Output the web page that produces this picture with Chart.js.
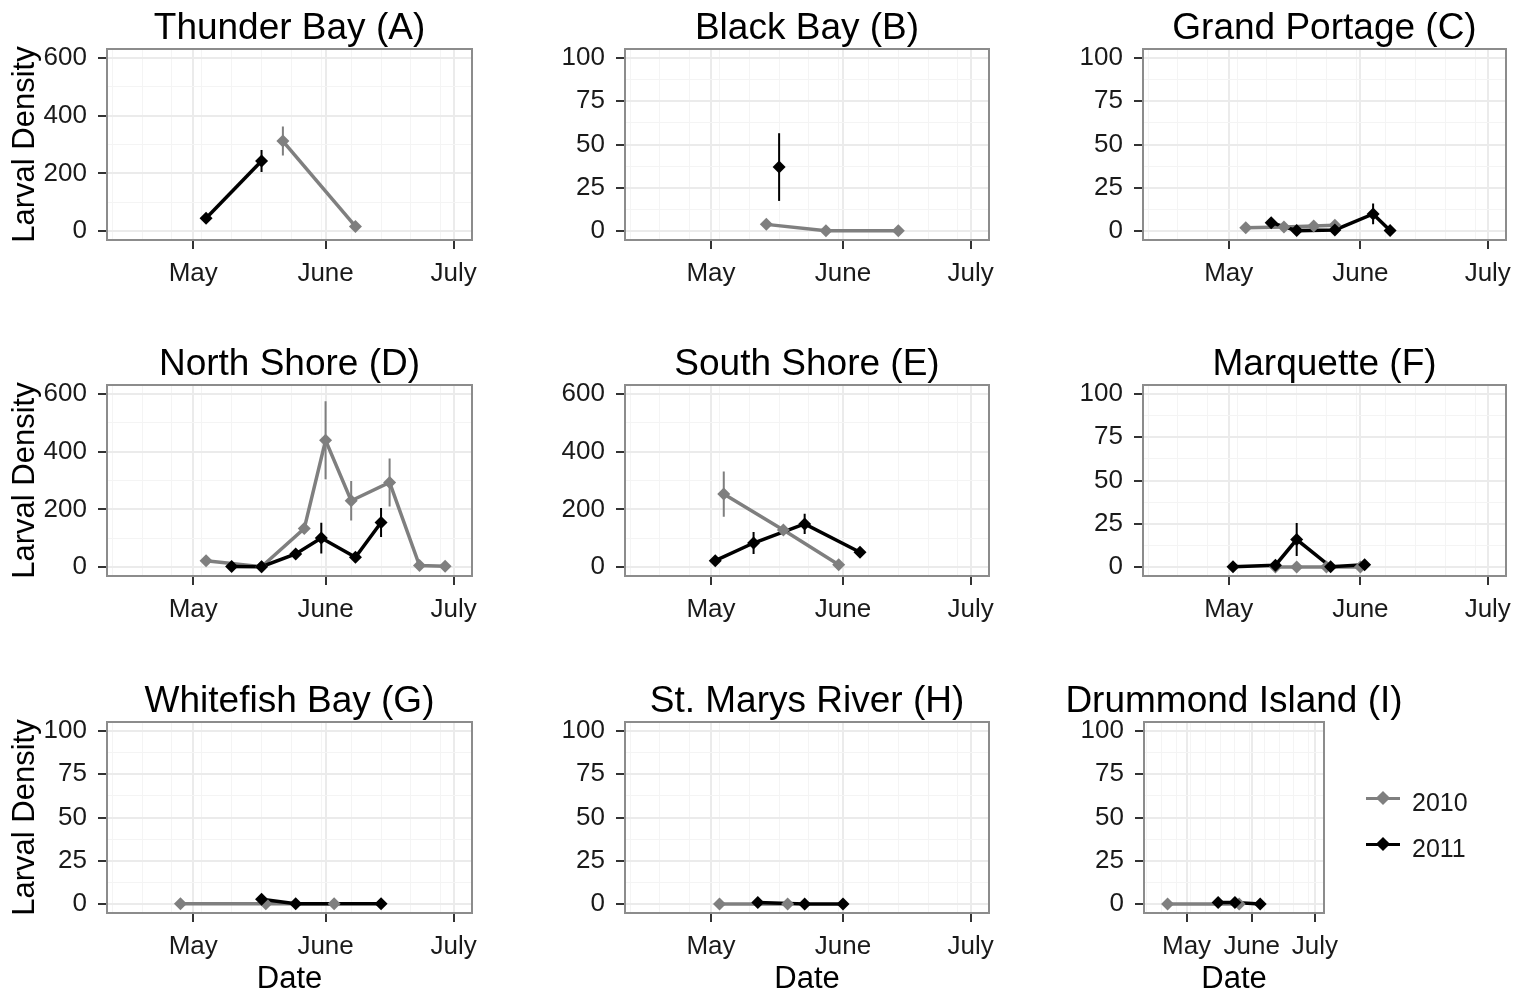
<!DOCTYPE html>
<html>
<head>
<meta charset="utf-8">
<script src="https://cdn.jsdelivr.net/npm/chart.js@4.4.1/dist/chart.umd.min.js"></script>
<style>
  body { margin: 0; background: #fff; width: 1517px; height: 995px; overflow: hidden; position: relative;
         font-family: "Liberation Sans", Arial, sans-serif; }
  canvas { position: absolute; }
  .lg-row { position: absolute; left: 1366px; height: 30px; }
  .lg-line { position: absolute; left: 0; top: 13px; width: 34px; height: 3px; }
  .lg-dot { position: absolute; left: 12px; top: 9px; width: 10px; height: 10px; transform: rotate(45deg); }
  .lg-text { position: absolute; left: 46px; top: 3px; font-size: 25px; line-height: 30px; color: #1a1a1a; }
</style>
</head>
<body>
<script>
// sampling dates (month-day), mean larval density and error half-width per site and year
const thunderDates10 = ['05-22', '06-08'];
const thunderDens10 = [312, 17];
const thunderErr10 = [50, 4];
const thunderDates11 = ['05-04', '05-17'];
const thunderDens11 = [45, 243];
const thunderErr11 = [6, 38];

const blackDates10 = ['05-14', '05-28', '06-14'];
const blackDens10 = [4, 0.3, 0.3];
const blackErr10 = [1, 0.2, 0.2];
const blackDates11 = ['05-17'];
const blackDens11 = [37];
const blackErr11 = [19.5];

const portageDates10 = ['05-05', '05-14', '05-21', '05-26'];
const portageDens10 = [2, 2.5, 3, 3.5];
const portageErr10 = [0.5, 0.5, 0.5, 0.5];
const portageDates11 = ['05-11', '05-17', '05-26', '06-04', '06-08'];
const portageDens11 = [5, 0.4, 0.8, 10, 0.4];
const portageErr11 = [1.5, 0.3, 0.5, 6, 0.3];

const northDates10 = ['05-04', '05-17', '05-27', '06-01', '06-07', '06-16', '06-23', '06-29'];
const northDens10 = [23, 2, 134, 439, 230, 293, 6, 4];
const northErr10 = [5, 1, 15, 135, 68, 83, 3, 3];
const northDates11 = ['05-10', '05-17', '05-25', '05-31', '06-08', '06-14'];
const northDens11 = [3, 2, 46, 101, 35, 155];
const northErr11 = [2, 2, 8, 53, 8, 50];

const southDates10 = ['05-04', '05-18', '05-31'];
const southDens10 = [253, 129, 9];
const southErr10 = [78, 15, 3];
const southDates11 = ['05-02', '05-11', '05-23', '06-05'];
const southDens11 = [23, 84, 150, 52];
const southErr11 = [5, 38, 35, 8];

const marqDates10 = ['05-12', '05-17', '05-24', '06-01'];
const marqDens10 = [0.2, 0.2, 0.2, 0.2];
const marqErr10 = [0.1, 0.1, 0.1, 0.1];
const marqDates11 = ['05-02', '05-12', '05-17', '05-25', '06-02'];
const marqDens11 = [0.3, 1.2, 16, 0.3, 1.5];
const marqErr11 = [0.2, 0.5, 9.5, 0.2, 0.5];

const whiteDates10 = ['04-28', '05-18', '06-03'];
const whiteDens10 = [0.3, 0.3, 0.3];
const whiteErr10 = [0.1, 0.1, 0.1];
const whiteDates11 = ['05-17', '05-25', '06-14'];
const whiteDens11 = [2.9, 0.3, 0.3];
const whiteErr11 = [0.5, 0.1, 0.1];

const stmaryDates10 = ['05-03', '05-19'];
const stmaryDens10 = [0.2, 0.2];
const stmaryErr10 = [0.1, 0.1];
const stmaryDates11 = ['05-12', '05-23', '06-01'];
const stmaryDens11 = [1, 0.2, 0.2];
const stmaryErr11 = [0.3, 0.1, 0.1];

const drumDates10 = ['04-22', '05-26'];
const drumDens10 = [0.2, 0.2];
const drumErr10 = [0.1, 0.1];
const drumDates11 = ['05-16', '05-24', '06-05'];
const drumDens11 = [1, 1, 0.2];
const drumErr11 = [0.3, 0.3, 0.1];

const years = ['2010', '2011'];
const monthLabels = ['May', 'June', 'July'];
const monthStarts = ['05-01', '06-01', '07-01'];
const weekMinor = ['04-12', '04-19', '04-26', '05-03', '05-10', '05-17', '05-24', '05-31', '06-07', '06-14', '06-21', '06-28'];
const bigTicks = [0, 200, 400, 600];
const bigMinor = [100, 300, 500];
const smallTicks = [0, 25, 50, 75, 100];
const smallMinor = [12.5, 37.5, 62.5, 87.5];

const GRAY = '#7f7f7f';
const BLACK = '#000000';
const FONT = '"Liberation Sans", Arial, sans-serif';

// day offset from May 1
function toDay(md) {
  const [m, d] = md.split('-').map(Number);
  return (Date.UTC(2011, m - 1, d) - Date.UTC(2011, 4, 1)) / 864e5;
}
function points(dates, vals) {
  return dates.map((d, i) => ({x: toDay(d), y: vals[i]}));
}
function ranges(dates, vals, errs) {
  const out = [];
  dates.forEach((d, i) => {
    const x = toDay(d);
    out.push({x, y: vals[i] - errs[i]}, {x, y: vals[i] + errs[i]}, {x, y: null});
  });
  return out;
}

const panels = [
  {title: 'Thunder Bay (A)', left: 107, top: 49, w: 365, big: true, ytitle: true,
   d10: thunderDates10, v10: thunderDens10, e10: thunderErr10, d11: thunderDates11, v11: thunderDens11, e11: thunderErr11},
  {title: 'Black Bay (B)', left: 625, top: 49, w: 364,
   d10: blackDates10, v10: blackDens10, e10: blackErr10, d11: blackDates11, v11: blackDens11, e11: blackErr11},
  {title: 'Grand Portage (C)', left: 1143, top: 49, w: 363,
   d10: portageDates10, v10: portageDens10, e10: portageErr10, d11: portageDates11, v11: portageDens11, e11: portageErr11},
  {title: 'North Shore (D)', left: 107, top: 385, w: 365, big: true, ytitle: true,
   d10: northDates10, v10: northDens10, e10: northErr10, d11: northDates11, v11: northDens11, e11: northErr11},
  {title: 'South Shore (E)', left: 625, top: 385, w: 364, big: true,
   d10: southDates10, v10: southDens10, e10: southErr10, d11: southDates11, v11: southDens11, e11: southErr11},
  {title: 'Marquette (F)', left: 1143, top: 385, w: 363,
   d10: marqDates10, v10: marqDens10, e10: marqErr10, d11: marqDates11, v11: marqDens11, e11: marqErr11},
  {title: 'Whitefish Bay (G)', left: 107, top: 722, w: 365, ytitle: true, xtitle: true,
   d10: whiteDates10, v10: whiteDens10, e10: whiteErr10, d11: whiteDates11, v11: whiteDens11, e11: whiteErr11},
  {title: 'St. Marys River (H)', left: 625, top: 722, w: 364, xtitle: true,
   d10: stmaryDates10, v10: stmaryDens10, e10: stmaryErr10, d11: stmaryDates11, v11: stmaryDens11, e11: stmaryErr11},
  {title: 'Drummond Island (I)', left: 1144, top: 722, w: 180, xtitle: true,
   d10: drumDates10, v10: drumDens10, e10: drumErr10, d11: drumDates11, v11: drumDens11, e11: drumErr11},
];

const PLOT_H = 191, TITLE_H = 49;

const boxPlugin = {
  id: 'panelBox',
  afterDatasetsDraw(chart) {
    const {ctx, chartArea: a} = chart;
    ctx.save();
    ctx.strokeStyle = '#8c8c8c';
    ctx.lineWidth = 2;
    ctx.strokeRect(a.left, a.top, a.right - a.left, a.bottom - a.top);
    ctx.restore();
  }
};

const monthVals = monthStarts.map(toDay);
const xTickVals = weekMinor.map(toDay).concat(monthVals).sort((a, b) => a - b);

panels.forEach(p => {
  const yW = p.ytitle ? p.left : 100;
  const xH = p.xtitle ? 85 : 50;
  const cv = document.createElement('canvas');
  cv.width = yW + p.w + yW;   // symmetric, so the title centres over the panel
  cv.height = TITLE_H + PLOT_H + xH;
  cv.style.left = (p.left - yW) + 'px';
  cv.style.top = (p.top - TITLE_H) + 'px';
  document.body.appendChild(cv);

  const major = p.big ? bigTicks : smallTicks;
  const minor = p.big ? bigMinor : smallMinor;
  const yTickVals = major.concat(minor).sort((a, b) => a - b);

  const layers = [
    {data: points(p.d10, p.v10), borderColor: GRAY, borderWidth: 3.5, pointRadius: 0},
    {data: points(p.d11, p.v11), borderColor: BLACK, borderWidth: 3.5, pointRadius: 0},
    {data: ranges(p.d10, p.v10, p.e10), borderColor: GRAY, borderWidth: 2, pointRadius: 0, spanGaps: false},
    {data: ranges(p.d11, p.v11, p.e11), borderColor: BLACK, borderWidth: 2, pointRadius: 0, spanGaps: false},
    {data: points(p.d10, p.v10), showLine: false, pointStyle: 'rectRot', pointRadius: 6.5,
     pointBackgroundColor: GRAY, pointBorderColor: GRAY, pointBorderWidth: 0},
    {data: points(p.d11, p.v11), showLine: false, pointStyle: 'rectRot', pointRadius: 6.5,
     pointBackgroundColor: BLACK, pointBorderColor: BLACK, pointBorderWidth: 0},
  ];
  // first dataset is painted last in Chart.js, so reverse to keep 2011 and points on top
  const datasets = layers.reverse().map(l => Object.assign({fill: false, tension: 0}, l));

  new Chart(cv, {
    type: 'line',
    data: {datasets},
    options: {
      responsive: false,
      animation: false,
      events: [],
      layout: {padding: 0},
      plugins: {
        legend: {display: false},
        tooltip: {enabled: false},
        title: {
          display: true, text: p.title, color: '#000',
          font: {family: FONT, size: 37, weight: 'normal', lineHeight: 1.1},
          padding: {top: 8.3, bottom: 0}
        }
      },
      scales: {
        x: {
          type: 'linear', min: -20.2, max: 65.3,
          afterBuildTicks: s => { s.ticks = xTickVals.map(v => ({value: v})); },
          afterFit: s => { s.height = xH; },
          border: {display: false},
          grid: {
            color: c => monthVals.includes(c.tick.value) ? '#ebebeb' : '#f4f4f4',
            lineWidth: c => monthVals.includes(c.tick.value) ? 2 : 1,
            tickColor: c => monthVals.includes(c.tick.value) ? '#333333' : 'rgba(0,0,0,0)',
            tickLength: 9, tickWidth: 2
          },
          ticks: {
            autoSkip: false, maxRotation: 0, minRotation: 0, padding: 9, color: '#1a1a1a',
            font: {family: FONT, size: 26, lineHeight: 1.2},
            callback: v => { const i = monthVals.indexOf(v); return i >= 0 ? monthLabels[i] : ''; }
          },
          title: {
            display: !!p.xtitle, text: 'Date', color: '#000',
            font: {family: FONT, size: 31, lineHeight: 1.2}, padding: {top: 0, bottom: 0}
          }
        },
        y: {
          type: 'linear', min: p.big ? -30 : -5, max: p.big ? 630 : 105,
          afterBuildTicks: s => { s.ticks = yTickVals.map(v => ({value: v})); },
          afterFit: s => { s.width = yW; },
          border: {display: false},
          grid: {
            color: c => major.includes(c.tick.value) ? '#ebebeb' : '#f4f4f4',
            lineWidth: c => major.includes(c.tick.value) ? 2 : 1,
            tickColor: c => major.includes(c.tick.value) ? '#333333' : 'rgba(0,0,0,0)',
            tickLength: 9, tickWidth: 2
          },
          ticks: {
            autoSkip: false, padding: 11, color: '#1a1a1a',
            font: {family: FONT, size: 26, lineHeight: 1.2},
            callback: v => major.includes(v) ? String(v) : ''
          },
          title: {
            display: !!p.ytitle, text: 'Larval Density', color: '#000',
            font: {family: FONT, size: 31, lineHeight: 1.2}, padding: {top: 6.4, bottom: 0}
          }
        },
        // empty right-hand spacer, mirrors the left axis width
        spacer: {
          type: 'linear', position: 'right', display: true,
          grid: {display: false, drawTicks: false}, border: {display: false},
          ticks: {display: false}, title: {display: false},
          afterFit: s => { s.width = yW; }
        }
      }
    },
    plugins: [boxPlugin]
  });
});

// legend
const legendColors = [GRAY, BLACK];
const legendTops = [784, 830];
years.forEach((yr, i) => {
  const row = document.createElement('div');
  row.className = 'lg-row';
  row.style.top = legendTops[i] + 'px';
  row.innerHTML = '<div class="lg-line" style="background:' + legendColors[i] + '"></div>' +
    '<div class="lg-dot" style="background:' + legendColors[i] + '"></div>' +
    '<div class="lg-text">' + yr + '</div>';
  document.body.appendChild(row);
});
</script>
</body>
</html>
